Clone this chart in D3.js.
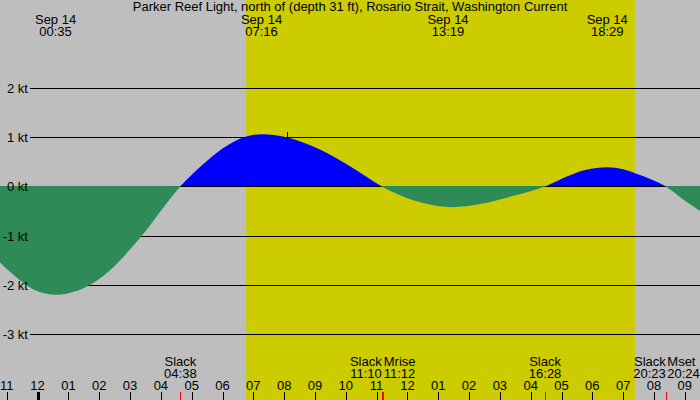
<!DOCTYPE html>
<html>
<head>
<meta charset="utf-8">
<script src="https://cdn.jsdelivr.net/npm/d3@7"></script>
<style>
    body { margin: 0; padding: 0; background: #bebebe; }
    svg text { font-family: "Liberation Sans", Arial, sans-serif; font-size: 13px; fill: #000; }
</style>
</head>
<body>
<svg id="chart" width="700" height="400"></svg>
<script>
// title of the station
var title = "Parker Reef Light, north of (depth 31 ft), Rosario Strait, Washington Current";

// current speed, hours from midnight Sep 14
var hours = [-1.23, -0.58, 0.0, 0.58, 1.0, 1.59, 2.34, 3.32, 3.97, 4.63, 5.37, 6.0, 6.46, 6.8, 7.27,
    8.08, 9.16, 10.24, 11.17, 12.19, 13.32, 14.36, 15.44, 16.47, 17.17, 17.8, 18.48, 19.0, 19.55,
    20.38, 20.96, 21.5];
var speeds = [-1.54, -1.90, -2.13, -2.20, -2.17, -2.04, -1.71, -1.05, -0.52, 0, 0.45, 0.77, 0.94, 1.02, 1.06,
    1.00, 0.75, 0.37, 0, -0.28, -0.42, -0.36, -0.19, 0, 0.20, 0.34, 0.39, 0.35, 0.23,
    0, -0.27, -0.50];

// max flood / max ebb times shown at the top
var peakDates = ["Sep 14", "Sep 14", "Sep 14", "Sep 14"];
var peakTimes = ["00:35", "07:16", "13:19", "18:29"];

// slack, moonrise and moonset along the bottom
var eventNames = ["Slack", "Slack", "Mrise", "Slack", "Slack", "Mset"];
var eventTimes = ["04:38", "11:10", "11:12", "16:28", "20:23", "20:24"];

// daylight
var sunrise = "06:46";
var sunset = "19:23";

// the little mark on the 1 kt line
var markTime = "08:05";
var markSpeed = 1;

// y axis
var ktTicks = [2, 1, 0, -1, -2, -3];
var ktLabels = ["2 kt", "1 kt", "0 kt", "-1 kt", "-2 kt", "-3 kt"];

// hour ticks along the bottom
var hourTicks = [-1, 0, 1, 2, 3, 4, 5, 6, 7, 8, 9, 10, 11, 12, 13, 14, 15, 16, 17, 18, 19, 20, 21];
var hourLabels = ["11", "12", "01", "02", "03", "04", "05", "06", "07", "08", "09", "10",
    "11", "12", "01", "02", "03", "04", "05", "06", "07", "08", "09"];

var W = 700, H = 400;
var svg = d3.select("#chart");

function toHours(s) {
    var p = s.split(":");
    return +p[0] + (+p[1]) / 60;
}

var x = d3.scaleLinear().domain([0, 21]).range([37.6, 684.8]);
var y = d3.scaleLinear().domain([-3, 2]).range([334, 88]);
var y0 = Math.round(y(0));

// background + daylight band
svg.append("rect").attr("x", 0).attr("y", 0).attr("width", W).attr("height", H).style("fill", "#bebebe");
svg.append("rect")
    .attr("x", x(toHours(sunrise)))
    .attr("y", 0)
    .attr("width", x(toHours(sunset)) - x(toHours(sunrise)))
    .attr("height", H)
    .style("fill", "#cccc00");

// grid lines, they go under the fill
svg.selectAll(".grid").data(ktTicks).enter().append("line")
    .attr("class", "grid")
    .attr("x1", 30).attr("x2", W)
    .attr("y1", function (d) { return Math.round(y(d)) + 0.5; })
    .attr("y2", function (d) { return Math.round(y(d)) + 0.5; })
    .style("stroke", "#000").style("stroke-width", 1);

// flood above zero (blue), ebb below zero (green)
var defs = svg.append("defs");
defs.append("clipPath").attr("id", "clipUp")
    .append("rect").attr("x", 0).attr("y", 0).attr("width", W).attr("height", y0);
defs.append("clipPath").attr("id", "clipDown")
    .append("rect").attr("x", 0).attr("y", y0).attr("width", W).attr("height", H - y0);

var pts = hours.map(function (h, i) { return [h, speeds[i]]; });
var area = d3.area()
    .curve(d3.curveCatmullRom.alpha(0.5))
    .x(function (d) { return x(d[0]); })
    .y0(y0)
    .y1(function (d) { return y(d[1]); });

svg.append("path").datum(pts)
    .attr("d", area)
    .attr("clip-path", "url(#clipUp)")
    .style("fill", "#0000ff");
svg.append("path").datum(pts)
    .attr("d", area)
    .attr("clip-path", "url(#clipDown)")
    .style("fill", "#2e8b57");

// kt labels sit on top of the fill
svg.selectAll(".ktlabel").data(ktTicks).enter().append("text")
    .attr("class", "ktlabel")
    .attr("x", 28)
    .attr("y", function (d) { return Math.round(y(d)) + 5; })
    .attr("text-anchor", "end")
    .text(function (d, i) { return ktLabels[i]; });

// small mark
var mx = Math.round(x(toHours(markTime))) + 0.5;
svg.append("line")
    .attr("x1", mx).attr("x2", mx)
    .attr("y1", y(markSpeed) - 5).attr("y2", y(markSpeed) + 4)
    .style("stroke", "#000");

// title + peak labels
svg.append("text").attr("x", 350).attr("y", 11).attr("text-anchor", "middle").text(title);

peakTimes.forEach(function (t, i) {
    var px = x(toHours(t));
    svg.append("text").attr("x", px).attr("y", 24).attr("text-anchor", "middle").text(peakDates[i]);
    svg.append("text").attr("x", px).attr("y", 36).attr("text-anchor", "middle").text(t);
});

// hour ticks
svg.selectAll(".hlabel").data(hourTicks).enter().append("text")
    .attr("class", "hlabel")
    .attr("x", function (d) { return x(d); })
    .attr("y", 390)
    .attr("text-anchor", "middle")
    .text(function (d, i) { return hourLabels[i]; });

svg.selectAll(".htick").data(hourTicks).enter().append("line")
    .attr("class", "htick")
    .attr("x1", function (d) { return Math.round(x(d)) + 0.5; })
    .attr("x2", function (d) { return Math.round(x(d)) + 0.5; })
    .attr("y1", 392).attr("y2", H)
    .style("stroke", "#000")
    .style("stroke-width", function (d) { return d % 24 === 0 ? 3 : 1; });

// events: when two events are close, push the labels apart
var evX = eventTimes.map(function (t) { return x(toHours(t)); });
eventNames.forEach(function (name, i) {
    var anchor = "middle";
    if (i < evX.length - 1 && evX[i + 1] - evX[i] < 20) anchor = "end";
    if (i > 0 && evX[i] - evX[i - 1] < 20) anchor = "start";
    var tx = evX[i] + (anchor === "start" ? 1 : 0);
    svg.append("text").attr("x", tx).attr("y", 366).attr("text-anchor", anchor).text(name);
    svg.append("text").attr("x", tx).attr("y", 378).attr("text-anchor", anchor).text(eventTimes[i]);
    svg.append("line")
        .attr("x1", Math.round(evX[i]) + 0.5).attr("x2", Math.round(evX[i]) + 0.5)
        .attr("y1", 392).attr("y2", H)
        .style("stroke", "#ff0000");
});
</script>
</body>
</html>
